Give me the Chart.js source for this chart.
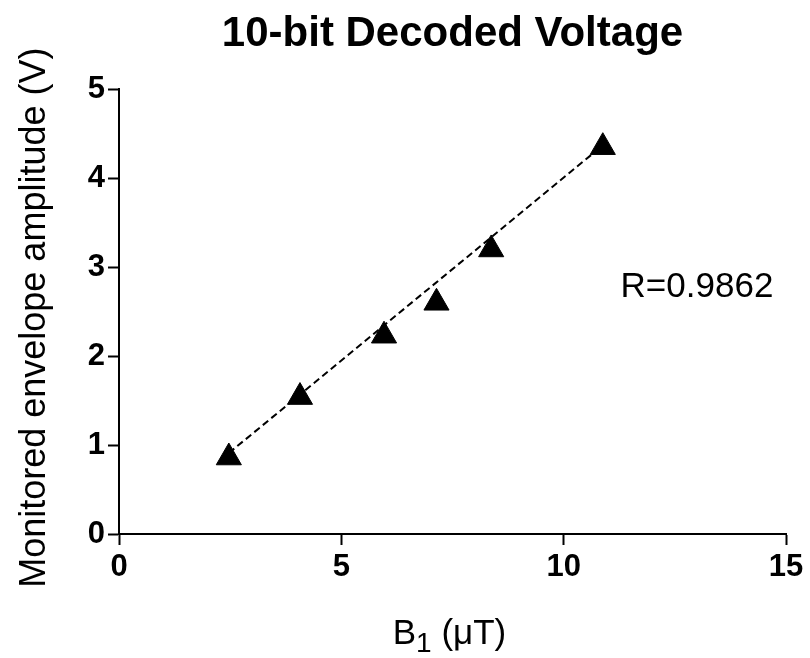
<!DOCTYPE html>
<html>
<head>
<meta charset="utf-8">
<script src="https://cdn.jsdelivr.net/npm/chart.js@4"></script>
<style>
  body { margin: 0; background: #fff; }
  canvas { display: block; }
</style>
</head>
<body>
<canvas id="chart" width="810" height="658"></canvas>
<script>
'use strict';

// measured points (B1 in uT, amplitude in V)
var fieldValues = [2.47, 4.07, 5.96, 7.14, 8.37, 10.88]
var voltValues = [0.86, 1.54, 2.23, 2.60, 3.20, 4.35]

// ends of the dashed fit line
var fitX = [2.47, 10.88]
var fitY = [0.91, 4.37]

var xTicks = [0, 5, 10, 15]
var yTicks = [0, 1, 2, 3, 4, 5]

var fitText = 'R=0.9862'
var yTitle = 'Monitored envelope amplitude (V)'
var fontName = '"Liberation Sans", Arial, Helvetica, sans-serif'

function toPoints(xs, ys) {
    var pts = []
    for (var i = 0; i < xs.length; i++) {
        pts.push({ x: xs[i], y: ys[i] })
    }
    return pts
}

// R value and both axis titles (B1 needs a subscript, so drawn by hand)
var textPlugin = {
    id: 'textPlugin',
    afterDraw: function(chart) {
        var ctx = chart.ctx
        var area = chart.chartArea
        var xs = chart.scales.x
        var ys = chart.scales.y
        ctx.save()
        ctx.fillStyle = '#000'
        ctx.textBaseline = 'alphabetic'
        ctx.textAlign = 'left'

        ctx.font = '35px ' + fontName
        ctx.fillText(fitText, xs.getPixelForValue(11.28), ys.getPixelForValue(2.66))

        var big = '35px ' + fontName
        var small = '28px ' + fontName
        ctx.font = big
        var wB = ctx.measureText('B').width
        var wRest = ctx.measureText(' (\u03bcT)').width
        ctx.font = small
        var wSub = ctx.measureText('1').width
        var total = wB + wSub + wRest
        var x0 = (area.left + area.right) / 2 - 3 - total / 2
        var base = chart.height - 14
        ctx.font = big
        ctx.fillText('B', x0, base)
        ctx.font = small
        ctx.fillText('1', x0 + wB, base + 8)
        ctx.font = big
        ctx.fillText(' (\u03bcT)', x0 + wB + wSub, base)

        ctx.translate(45, (area.top + area.bottom) / 2 + 6)
        ctx.rotate(-Math.PI / 2)
        ctx.textAlign = 'center'
        ctx.font = '36px ' + fontName
        ctx.fillText(yTitle, 0, 0)
        ctx.restore()
    }
}

var tickFont = { family: fontName, size: 31, weight: 'bold' }

var ctx = document.getElementById('chart').getContext('2d')
new Chart(ctx, {
    type: 'scatter',
    data: {
        datasets: [{
            data: toPoints(fieldValues, voltValues),
            pointStyle: 'triangle',
            pointRadius: 14.5,
            pointHoverRadius: 14.5,
            backgroundColor: '#000',
            borderColor: '#000',
            borderWidth: 1,
            order: 0
        }, {
            type: 'line',
            data: toPoints(fitX, fitY),
            borderColor: '#000',
            borderWidth: 2,
            borderDash: [7, 4],
            pointRadius: 0,
            fill: false,
            order: 1
        }]
    },
    options: {
        responsive: false,
        animation: false,
        layout: {
            padding: { left: 0, right: 24, top: 0, bottom: 0 }
        },
        plugins: {
            legend: { display: false },
            tooltip: { enabled: false },
            title: {
                display: true,
                fullSize: false,
                text: '10-bit Decoded Voltage',
                color: '#000',
                font: { family: fontName, size: 42, weight: 'bold' },
                padding: { top: 9, bottom: 30 }
            }
        },
        scales: {
            x: {
                type: 'linear',
                min: 0,
                max: 15,
                afterBuildTicks: function(scale) {
                    scale.ticks = xTicks.map(function(v) { return { value: v } })
                },
                ticks: { font: tickFont, color: '#000', padding: 4, maxRotation: 0 },
                grid: { drawOnChartArea: false, tickLength: 11, tickColor: '#000', tickWidth: 2 },
                border: { color: '#000', width: 2 },
                afterFit: function(scale) { scale.height = 124 }
            },
            y: {
                min: 0,
                max: 5,
                afterBuildTicks: function(scale) {
                    scale.ticks = yTicks.map(function(v) { return { value: v } })
                },
                ticks: { font: tickFont, color: '#000', padding: 3 },
                grid: { drawOnChartArea: false, tickLength: 11, tickColor: '#000', tickWidth: 2 },
                border: { color: '#000', width: 2 },
                afterFit: function(scale) { scale.width = 119 }
            }
        }
    },
    plugins: [textPlugin]
})
</script>
</body>
</html>
